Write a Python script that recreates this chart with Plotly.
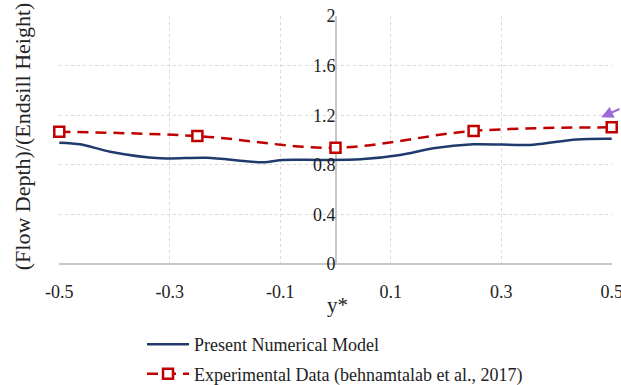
import plotly.graph_objects as go

# Present Numerical Model
num_x = [-0.5, -0.462, -0.408, -0.317, -0.233, -0.131, -0.095, -0.027, 0.045, 0.117, 0.177, 0.249, 0.358, 0.436, 0.5]
num_y = [0.978, 0.965, 0.906, 0.852, 0.857, 0.820, 0.839, 0.839, 0.844, 0.879, 0.933, 0.965, 0.962, 1.005, 1.010]

# Experimental Data (behnamtalab et al., 2017)
exp_x = [-0.5, -0.25, 0.0, 0.25, 0.5]
exp_y = [1.067, 1.032, 0.938, 1.073, 1.102]

x_ticks = [-0.5, -0.3, -0.1, 0.1, 0.3, 0.5]
y_ticks = [0, 0.4, 0.8, 1.2, 1.6, 2]

FONT = "Liberation Serif, Times New Roman, serif"

fig = go.Figure()
fig.add_trace(go.Scatter(
    x=num_x, y=num_y, mode="lines", name="Present Numerical Model",
    line=dict(color="#1f3b6e", width=2.5, shape="spline", smoothing=0.8),
    cliponaxis=False, legendgroup="a",
))
fig.add_trace(go.Scatter(
    x=exp_x, y=exp_y, mode="lines+markers", name="Experimental Data (behnamtalab et al., 2017)",
    line=dict(color="#c00000", width=2.5, dash="11px,7px", shape="spline", smoothing=1.0),
    marker=dict(symbol="square", size=10, color="white", line=dict(width=2.5, color="#c00000")),
    cliponaxis=False, legendgroup="b",
))

fig.add_annotation(
    x=0.481, y=1.183, xref="x", yref="y", ax=22, ay=-9,
    text="", showarrow=True, arrowhead=2, arrowsize=1.2, arrowwidth=2, arrowcolor="#9b6bd6",
)
fig.add_annotation(
    x=-0.067, y=0.515, xref="paper", yref="paper", xanchor="center", yanchor="middle",
    text="(Flow Depth)/(Endsill Height)", textangle=-90, showarrow=False,
    font=dict(family=FONT, size=22, color="#222222"),
)
fig.add_annotation(
    x=0.503, y=-0.165, xref="paper", yref="paper", xanchor="center", yanchor="middle",
    text="y*", showarrow=False, font=dict(family=FONT, size=21, color="#222222"),
)

fig.update_layout(
    width=621, height=385,
    margin=dict(l=59, r=9, t=16, b=121, autoexpand=False),
    paper_bgcolor="white", plot_bgcolor="white",
    font=dict(family=FONT, size=18, color="#222222"),
    showlegend=True,
    legend=dict(x=0.2287, y=0.153, xref="container", yref="container",
                xanchor="left", yanchor="top", orientation="v",
                font=dict(family=FONT, size=18), bgcolor="rgba(0,0,0,0)",
                traceorder="grouped", tracegroupgap=3, itemwidth=42),
    xaxis=dict(range=[-0.5005, 0.5005], tickvals=x_ticks, ticktext=["-0.5", "-0.3", "-0.1", "0.1", "0.3", "0.5"],
               showgrid=True, gridcolor="#d9d9d9", griddash="3px,3px", gridwidth=1,
               zeroline=True, zerolinecolor="#c8c8c8", zerolinewidth=1.5,
               showline=False, ticks="outside", ticklen=11, tickcolor="rgba(0,0,0,0)",
               ticklabeloverflow="allow", automargin=False),
    yaxis=dict(range=[0, 2], tickvals=y_ticks, ticktext=["0", "0.4", "0.8", "1.2", "1.6", "2"],
               showgrid=True, gridcolor="#d9d9d9", griddash="3px,3px", gridwidth=1,
               zeroline=True, zerolinecolor="#c8c8c8", zerolinewidth=1.5,
               anchor="free", position=0.5, showline=False, ticks="", automargin=False,
               ticklabeloverflow="allow"),
)

# remove the default 8px page margin so the figure fills the window exactly
fig.write_html("out.html", config={"displayModeBar": False},
               post_script="document.body.style.margin='0';document.body.style.overflow='hidden';")
